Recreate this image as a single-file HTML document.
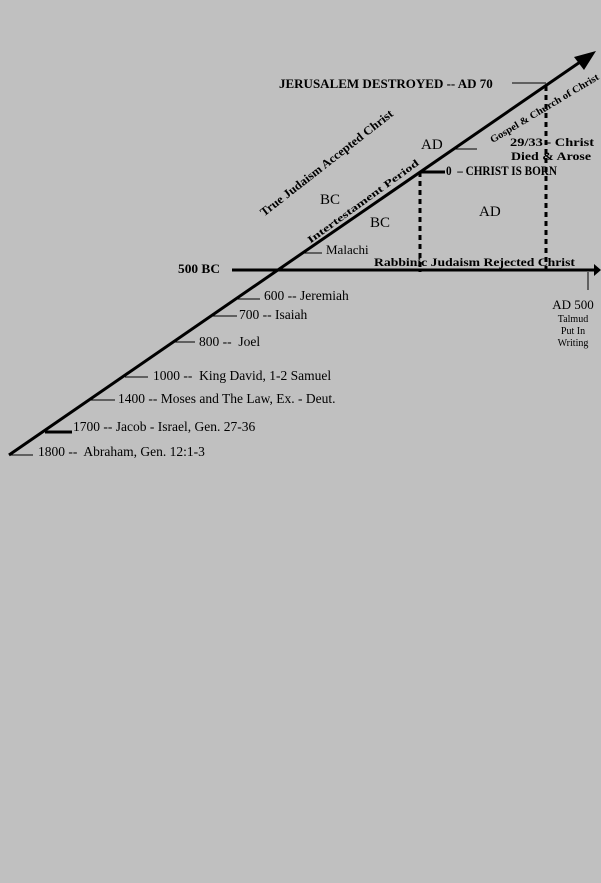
<!DOCTYPE html>
<html><head><style>
html,body{margin:0;padding:0;background:#c0c0c0;}
svg{display:block;}
text{font-family:"Liberation Serif",serif;fill:#000;white-space:pre;}
</style></head><body>
<svg width="601" height="883" viewBox="0 0 601 883">
<rect width="601" height="883" fill="#c0c0c0"/>
<line x1="9" y1="455" x2="583" y2="60" stroke="#000" stroke-width="3"/>
<polygon points="596,51 574,57 584,70" fill="#000"/>
<line x1="232" y1="270" x2="596" y2="270" stroke="#000" stroke-width="3"/>
<polygon points="601,270 594,264 594,276" fill="#000"/>
<line x1="588" y1="272" x2="588" y2="290" stroke="#000" stroke-width="1"/>
<line x1="420" y1="172" x2="420" y2="272" stroke="#000" stroke-width="3" stroke-dasharray="5,4"/>
<line x1="546" y1="86" x2="546" y2="272" stroke="#000" stroke-width="3" stroke-dasharray="5,4"/>
<g stroke="#000" stroke-width="1">
<line x1="512" y1="83" x2="546" y2="83"/>
<line x1="455" y1="149" x2="477" y2="149"/>
<line x1="302" y1="253" x2="322" y2="253"/>
<line x1="237" y1="299" x2="260" y2="299"/>
<line x1="213" y1="316" x2="237" y2="316"/>
<line x1="172" y1="342" x2="195" y2="342"/>
<line x1="125" y1="377" x2="148" y2="377"/>
<line x1="90" y1="400" x2="115" y2="400"/>
<line x1="9" y1="455" x2="33" y2="455"/>
</g>
<line x1="420" y1="172" x2="445" y2="172" stroke="#000" stroke-width="3"/>
<line x1="45" y1="432" x2="72" y2="432" stroke="#000" stroke-width="3"/>
<g font-size="12">
<text x="279" y="88" font-weight="bold" font-size="13">JERUSALEM DESTROYED -- AD 70</text>
<text x="510" y="146" font-weight="bold" textLength="84" lengthAdjust="spacingAndGlyphs">29/33 - Christ</text>
<text x="511" y="160" font-weight="bold" textLength="80" lengthAdjust="spacingAndGlyphs">Died &amp; Arose</text>
<text x="446" y="175" font-size="13" font-weight="bold" textLength="111" lengthAdjust="spacingAndGlyphs">0  – CHRIST IS BORN</text>
<text x="421" y="149" font-size="15">AD</text>
<text x="320" y="204" font-size="15">BC</text>
<text x="370" y="227" font-size="15">BC</text>
<text x="479" y="216" font-size="15">AD</text>
<text x="326" y="254" font-size="13">Malachi</text>
<text x="374" y="266" font-weight="bold" textLength="201" lengthAdjust="spacingAndGlyphs">Rabbinic Judaism Rejected Christ</text>
<text x="178" y="273" font-weight="bold" font-size="13" textLength="42" lengthAdjust="spacingAndGlyphs">500 BC</text>
<g font-size="13.5">
<text x="264" y="300">600 -- Jeremiah</text>
<text x="239" y="319">700 -- Isaiah</text>
<text x="199" y="346">800 --  Joel</text>
<text x="153" y="380">1000 --  King David, 1-2 Samuel</text>
<text x="118" y="403">1400 -- Moses and The Law, Ex. - Deut.</text>
<text x="73" y="431">1700 -- Jacob - Israel, Gen. 27-36</text>
<text x="38" y="456">1800 --  Abraham, Gen. 12:1-3</text>
</g>
<text x="573" y="309" text-anchor="middle" font-size="13">AD 500</text>
<text x="573" y="322" text-anchor="middle" font-size="10">Talmud</text>
<text x="573" y="334" text-anchor="middle" font-size="10">Put In</text>
<text x="573" y="346" text-anchor="middle" font-size="10">Writing</text>
</g>
<g font-weight="bold" font-size="12">
<text transform="translate(329,166) rotate(-38)" text-anchor="middle" textLength="165" lengthAdjust="spacingAndGlyphs">True Judaism Accepted Christ</text>
<text transform="translate(365,204) rotate(-36)" text-anchor="middle" font-size="10" textLength="135" lengthAdjust="spacingAndGlyphs">Intertestament Period</text>
<text transform="translate(546,111) rotate(-31)" text-anchor="middle" font-size="10" textLength="125" lengthAdjust="spacingAndGlyphs">Gospel &amp; Church of Christ</text>
</g>
</svg>
</body></html>
